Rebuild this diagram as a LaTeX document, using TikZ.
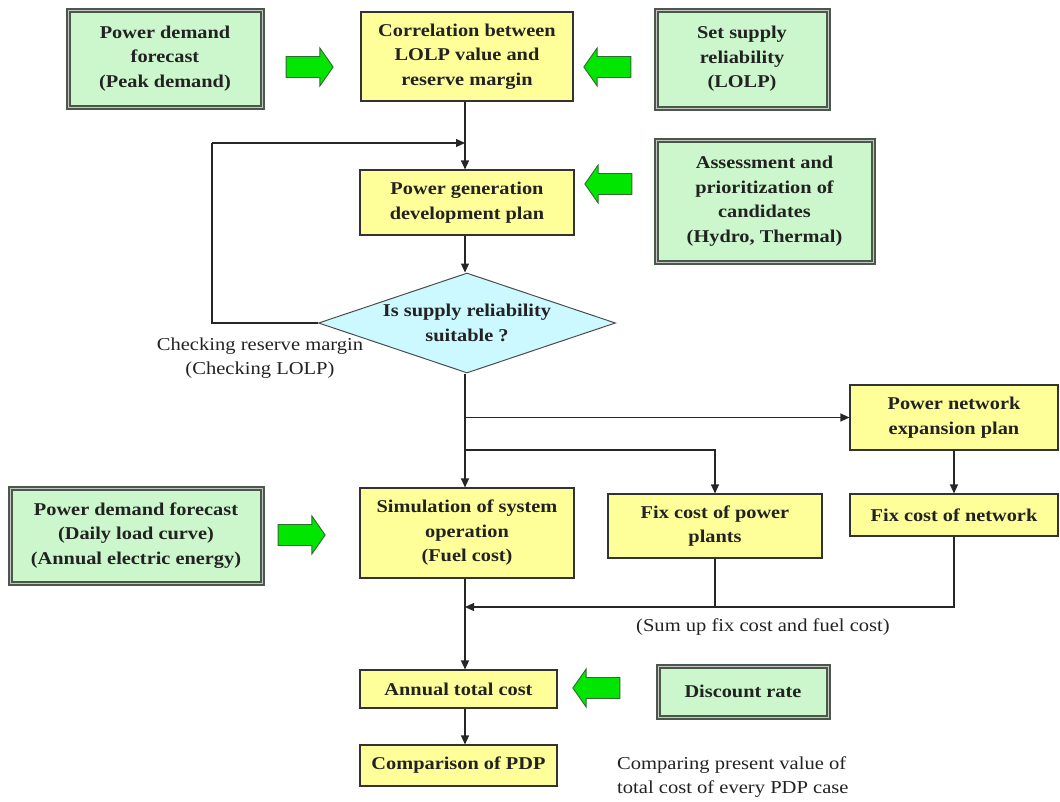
\documentclass[tikz,border=0pt]{standalone}
\usepackage{fontspec}
\setmainfont{Liberation Serif}[FakeStretch=1.13]
\usetikzlibrary{arrows.meta,shapes.geometric,shapes.arrows}
\definecolor{ybox}{HTML}{FFFF99}
\definecolor{gbox}{HTML}{CCF7CC}
\definecolor{gframe}{HTML}{4A584A}
\definecolor{cdia}{HTML}{CCF8FF}
\definecolor{garr}{HTML}{00E600}
\definecolor{garrd}{HTML}{2F6A2F}
\definecolor{txt}{HTML}{222222}
\tikzset{
  txtfont/.style={font=\fontsize{18}{24.5}\selectfont\bfseries, text=txt},
  ybx/.style={txtfont, draw=black!80, line width=1.1pt, fill=ybox, align=center, inner sep=0pt},
  gbx/.style={txtfont, draw=gframe, line width=2pt, double=gray!45, double distance=1pt, fill=gbox, align=center, inner sep=0pt},
  garrow/.style={single arrow, fill=garr, draw=garrd, line width=0.9pt, minimum height=47pt, minimum width=38pt, single arrow head extend=8.5pt, single arrow tip angle=110, inner sep=10pt},
  conn/.style={draw=black!85, line width=1.2pt},
  arr/.style={conn, -{Triangle[length=9pt,width=8pt]}},
  plain/.style={font=\fontsize{18.2}{24.5}\selectfont, text=txt, align=center, inner sep=0pt}
}
\begin{document}
\begin{tikzpicture}[x=1pt,y=-1pt]
\useasboundingbox (0,0) rectangle (1060,801);
% boxes
\node[gbx, minimum width=194pt, minimum height=97pt] (A) at (165,58.5) {Power demand\\forecast\\(Peak demand)};
\node[ybx, minimum width=212pt, minimum height=89pt] (B) at (467,56.5) {Correlation between\\LOLP value and\\reserve margin};
\node[gbx, minimum width=172pt, minimum height=98pt] (C) at (742,59) {Set supply\\reliability\\(LOLP)};
\node[ybx, minimum width=214pt, minimum height=65pt] (D) at (467,202.5) {Power generation\\development plan};
\node[gbx, minimum width=217pt, minimum height=122pt] (E) at (764.5,201) {Assessment and\\prioritization of\\candidates\\(Hydro, Thermal)};
\node[diamond, draw=black!70, line width=1pt, fill=cdia, minimum width=297pt, minimum height=100pt, inner sep=0pt] (dia) at (467,323) {};
\node[txtfont, align=center] (diat) at (dia) {Is supply reliability\\suitable ?};
\node[ybx, minimum width=208pt, minimum height=65pt] (F) at (954,417.5) {Power network\\expansion plan};
\node[ybx, minimum width=208pt, minimum height=42pt] (G) at (954,515) {Fix cost of network};
\node[ybx, minimum width=214pt, minimum height=64pt] (H) at (715,526) {Fix cost of power\\plants};
\node[ybx, minimum width=214pt, minimum height=90pt] (I) at (467,533) {Simulation of system\\operation\\(Fuel cost)};
\node[gbx, minimum width=252pt, minimum height=95pt] (J) at (136,535.5) {Power demand forecast\\(Daily load curve)\\(Annual electric energy)};
\node[ybx, minimum width=197pt, minimum height=38pt] (K) at (458.5,689) {Annual total cost};
\node[gbx, minimum width=170pt, minimum height=51pt] (L) at (743,691.5) {Discount rate};
\node[ybx, minimum width=197pt, minimum height=41pt] (M) at (458.5,765.5) {Comparison of PDP};
% green block arrows
\node[garrow, shape border rotate=0] (g1) at (306,67) {};
\node[garrow, shape border rotate=180] (g2) at (611,67) {};
\node[garrow, shape border rotate=180] (g3) at (612,184) {};
\node[garrow, shape border rotate=0] (g4) at (298,535) {};
\node[garrow, shape border rotate=180] (g5) at (600,688) {};
% labels
\node[plain] (lchk) at (260,358) {Checking reserve margin\\(Checking LOLP)};
\node[plain] (lsum) at (763,627) {(Sum up fix cost and fuel cost)};
\node[plain, align=left, anchor=west] (lcmp) at (617,777) {Comparing present value of\\total cost of every PDP case};
% connectors
\coordinate (fbl) at (212,143);
\coordinate (fbj) at (465,143);
\coordinate (br1) at (465,417.5);
\coordinate (br2) at (465,450);
\coordinate (sumj) at (465,607);
\draw[arr] (B.south -| fbj) -- (D.north -| fbj);
\draw[conn] (dia.west) -| (fbl);
\draw[arr] (fbl) -- (fbj);
\draw[arr] (D.south -| fbj) -- (dia.north -| fbj);
\draw[arr] (dia.south -| fbj) -- (I.north -| fbj);
\draw[arr] (br1) -- (F.west);
\draw[arr] (br2) -| (H.north);
\draw[arr] (F.south) -- (G.north);
\draw[conn] (H.south) -- (H.south |- sumj);
\draw[arr] (G.south) |- (sumj);
\draw[arr] (I.south -| fbj) -- (K.north -| fbj);
\draw[arr] (K.south -| fbj) -- (M.north -| fbj);
\end{tikzpicture}
\end{document}
